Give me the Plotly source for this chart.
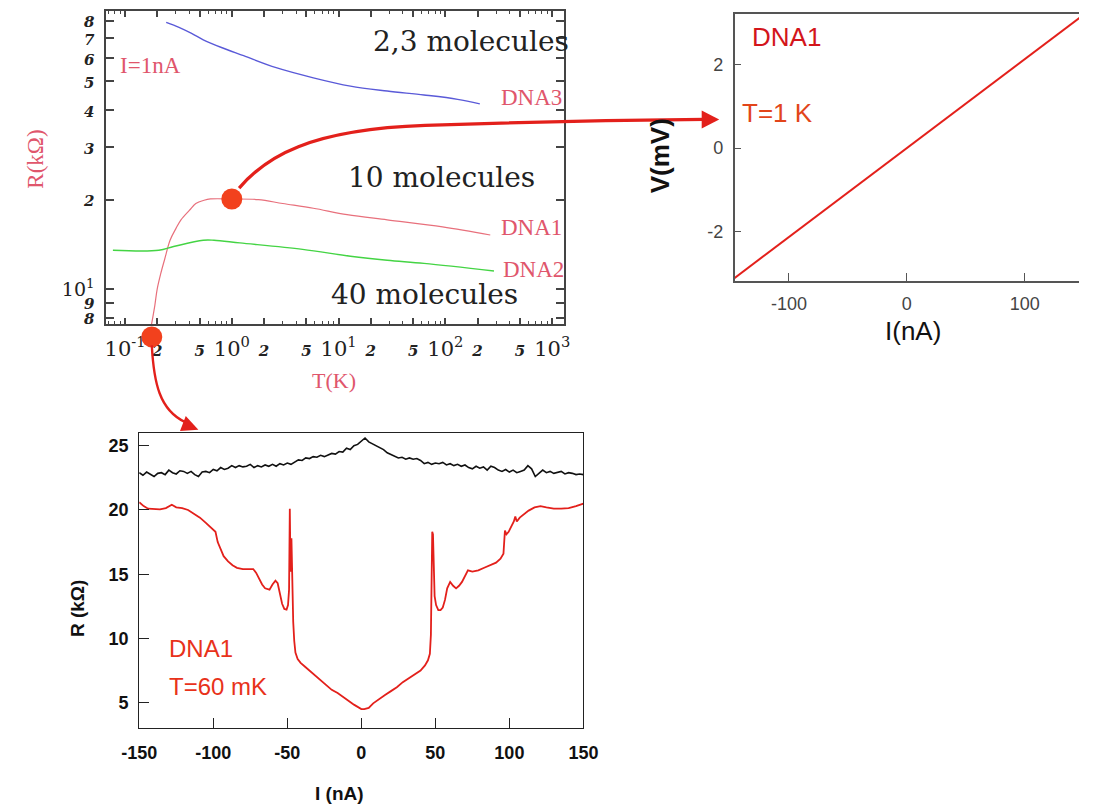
import math
import plotly.graph_objects as go

W, H = 1094, 812

# ---- top-left panel: R(T) at I = 1 nA (T in K, R in kOhm) ----
dna3_T = [0.243, 0.32, 0.42, 0.54, 0.8, 1.29, 2.6, 5.8, 12.9, 28.5, 63, 130, 210]
dna3_R = [79, 76, 72.5, 69, 65, 61, 55.6, 51.4, 48.2, 46.4, 45, 43.5, 42]

dna1_T = [0.177, 0.19, 0.2, 0.215, 0.235, 0.264, 0.3, 0.334, 0.4, 0.46, 0.55, 0.63,
          1.0, 1.77, 3.0, 5.8, 12, 28.5, 94, 263]
dna1_R = [7.6, 8.8, 10.0, 11.2, 12.6, 14.6, 16.0, 17.1, 18.4, 19.4, 19.9, 20.1,
          20.1, 20.0, 19.4, 18.7, 17.8, 17.1, 16.2, 15.2]

dna2_T = [0.077, 0.207, 0.285, 0.54, 0.68, 1.19, 4.6, 12.9, 28.5, 63, 285]
dna2_R = [13.5, 13.5, 13.9, 14.6, 14.6, 14.3, 13.6, 12.9, 12.5, 12.2, 11.5]

# highlighted measurement points (T=1 K and the low-T end)
spot_T = [1.0, 0.178]
spot_R = [20.1, 6.9]

x1_ticks = [0.1, 0.2, 0.5, 1, 2, 5, 10, 20, 50, 100, 200, 500, 1000]
y1_ticks = [8, 9, 10, 20, 30, 40, 50, 60, 70, 80]

# ---- top-right panel: V(I) at T = 1 K ----
iv_I = [-150, -100, -50, 0, 50, 100, 150]
iv_V = [-3.18, -2.12, -1.06, 0.0, 1.06, 2.12, 3.18]

# ---- bottom panel: R(I) at T = 60 mK ----
blk_I = [-150, -147.5, -145, -142.5, -140, -137.5, -135, -132.5, -130, -127.5, -125, -122.5,
         -120, -117.5, -115, -112.5, -110, -107.5, -105, -102.5, -100, -97.5, -95, -92.5,
         -90, -87.5, -85, -82.5, -80, -77.5, -75, -72.5, -70, -67.5, -65, -62.5,
         -60, -57.5, -55, -52.5, -50, -47.5, -45, -42.5, -40, -37.5, -35, -32.5,
         -30, -27.5, -25, -22.5, -20, -17.5, -15, -12.5, -10, -7.5, -5, -2.5,
         0, 2.5, 5, 7.5, 10, 12.5, 15, 17.5, 20, 22.5, 25, 27.5,
         30, 32.5, 35, 37.5, 40, 42.5, 45, 47.5, 50, 52.5, 55, 57.5,
         60, 62.5, 65, 67.5, 70, 72.5, 75, 77.5, 80, 82.5, 85, 87.5,
         90, 92.5, 95, 97.5, 100, 102.5, 105, 107.5, 110, 112.5, 115, 117.5,
         120, 122.5, 125, 127.5, 130, 132.5, 135, 137.5, 140, 142.5, 145, 147.5, 150]
blk_R = [22.9, 22.7, 22.95, 22.8, 22.6, 22.85, 22.9, 22.75, 23.1, 22.9, 22.8, 23.05,
         23.0, 22.85, 23.0, 22.75, 22.6, 22.95, 23.0, 22.9, 23.15, 23.05, 23.3, 23.15,
         23.25, 23.45, 23.3, 23.45, 23.35, 23.4, 23.55, 23.3, 23.45, 23.35, 23.5, 23.4,
         23.55, 23.4, 23.6, 23.5, 23.65, 23.55, 23.75, 23.9, 23.85, 24.05, 24.0, 24.15,
         24.1, 24.25, 24.15, 24.3, 24.4, 24.35, 24.55, 24.5, 24.8, 24.7, 25.0, 25.1,
         25.35, 25.6, 25.3, 25.15, 25.0, 24.8, 24.7, 24.45, 24.3, 24.2, 24.05, 24.1,
         23.95, 24.05, 23.95, 24.0, 23.85, 23.6, 23.7, 23.55, 23.65, 23.6, 23.7, 23.5,
         23.6, 23.45, 23.55, 23.4, 23.5, 23.3, 23.2, 23.4, 23.25, 23.35, 23.1, 23.4,
         23.3, 23.1, 23.0, 23.15, 22.95, 23.1, 22.9, 23.0, 23.1, 23.45, 23.2, 22.6,
         22.85, 23.1, 22.9, 23.0, 22.85, 22.95, 23.0, 22.8, 22.9, 22.85, 22.75, 22.8, 22.75]

red_I = [-150, -147, -144, -140, -136, -132, -128, -125, -121, -117, -113, -109, -105, -101,
         -98.5, -97, -95, -93, -90, -87, -84, -80, -76, -73, -71, -69, -67, -65, -62, -60,
         -58, -56.5, -55, -53.5, -52, -50.5, -49.5, -48.8, -48.3, -47.8, -47.2, -46.6, -46,
         -45.3, -44.5, -43, -41, -38, -35, -32, -28, -24, -20, -16, -12, -8, -5, -2, 0,
         2, 5, 8, 12, 16, 20, 24, 28, 32, 36, 40, 43, 45, 46.3, 47, 47.5, 47.9, 48.4, 48.9,
         49.5, 50.5, 52, 53.5, 55, 56.5, 58, 60, 62, 64, 66, 68, 70, 72, 75, 79, 83, 87, 91,
         94, 96, 97, 98, 99.5, 101, 103, 104, 105, 107, 110, 113, 117, 121, 125, 130, 135,
         140, 145, 150]
red_R = [20.6, 20.3, 20.1, 20.1, 20.05, 20.15, 20.4, 20.2, 20.15, 20.0, 19.7, 19.4, 19.0, 18.6,
         18.3, 17.5, 17.0, 16.4, 16.0, 15.7, 15.5, 15.4, 15.4, 15.4, 15.1, 14.6, 14.2, 13.9, 13.8, 14.2,
         14.5, 14.3, 13.6, 12.7, 12.3, 12.25, 12.6, 13.8, 20.1, 15.2, 17.8, 14.0, 11.3,
         9.8, 8.9, 8.4, 8.1, 7.8, 7.5, 7.2, 6.8, 6.35, 6.0, 5.75, 5.45, 5.1, 4.85, 4.6, 4.5,
         4.5, 4.6, 4.95, 5.3, 5.6, 5.9, 6.2, 6.6, 6.9, 7.15, 7.5, 7.9, 8.3, 8.8, 10.3, 14.8, 18.3, 18.1, 14.6,
         13.3, 12.6, 12.2, 12.2, 12.4, 13.0, 13.9, 14.4, 14.1, 13.9, 14.1, 14.4, 14.9, 15.3, 15.2, 15.3, 15.5, 15.7, 15.9,
         16.2, 16.6, 18.4, 18.1, 18.3, 18.6, 19.1, 19.5, 19.1, 19.4, 19.7, 19.95, 20.2, 20.3, 20.2, 20.1, 20.1,
         20.15, 20.3, 20.5]

assert len(blk_I) == len(blk_R), (len(blk_I), len(blk_R))
assert len(red_I) == len(red_R), (len(red_I), len(red_R))

PINK = "#e0566c"
RED = "#e3201b"
DOT = "#f2411d"
SERIF = "DejaVu Serif"
TIMES = "Liberation Serif"
SANS = "Liberation Sans"


def px(x, y):
    # pixel position -> paper coordinates (margins are zero)
    return f"{x / W:.4f},{1 - y / H:.4f}"


def small(s):
    return f"<span style='font-size:15px'><b><i>{s}</i></b></span>"


def note(text, x, y, size, color, family=SANS, angle=0):
    # free text placed by its centre, in pixels of the page
    return dict(text=text, x=x / W, y=1 - y / H, xref="paper", yref="paper", showarrow=False,
                xanchor="center", yanchor="middle", textangle=angle,
                font=dict(family=family, size=size, color=color))


def label(text, x, y, size, color, family):
    # text placed in data units of the log-log panel
    return dict(text=text, x=math.log10(x), y=math.log10(y), xref="x", yref="y", showarrow=False,
                xanchor="center", yanchor="middle", font=dict(family=family, size=size, color=color))


fig = go.Figure()

# top-left curves
fig.add_trace(go.Scatter(x=dna3_T, y=dna3_R, mode="lines", line=dict(color="#5a5ad8", width=1.4, shape="spline"),
                         xaxis="x", yaxis="y", name="DNA3"))
fig.add_trace(go.Scatter(x=dna1_T, y=dna1_R, mode="lines", line=dict(color="#e8707c", width=1.2, shape="spline"),
                         xaxis="x", yaxis="y", name="DNA1"))
fig.add_trace(go.Scatter(x=dna2_T, y=dna2_R, mode="lines", line=dict(color="#44d444", width=1.4, shape="spline"),
                         xaxis="x", yaxis="y", name="DNA2"))

# top-right IV
fig.add_trace(go.Scatter(x=iv_I, y=iv_V, mode="lines", line=dict(color=RED, width=2),
                         xaxis="x2", yaxis="y2", name="IV"))

# bottom R(I)
fig.add_trace(go.Scatter(x=blk_I, y=blk_R, mode="lines", line=dict(color="#111111", width=1.6),
                         xaxis="x3", yaxis="y3", name="normal"))
fig.add_trace(go.Scatter(x=red_I, y=red_R, mode="lines", line=dict(color=RED, width=1.8),
                         xaxis="x3", yaxis="y3", name="60 mK"))

# arrows connecting the points to the other panels
shapes = [
    dict(type="path", xref="paper", yref="paper", line=dict(color=RED, width=3.2),
         path=f"M {px(228, 189)} C {px(255, 158)} {px(300, 130)} {px(420, 126)} S {px(600, 121)} {px(708, 120)}"),
    dict(type="path", xref="paper", yref="paper", line=dict(color=RED, width=0), fillcolor=RED,
         path=f"M {px(723, 120)} L {px(705, 111)} L {px(705, 129)} Z"),
    dict(type="path", xref="paper", yref="paper", line=dict(color=RED, width=2.4),
         path=f"M {px(138, 347)} C {px(140, 385)} {px(146, 412)} {px(172, 424)}"),
    dict(type="path", xref="paper", yref="paper", line=dict(color=RED, width=0), fillcolor=RED,
         path=f"M {px(186, 432)} L {px(167, 433)} L {px(173, 418)} Z"),
]

# the two highlighted points sit on a hidden axis that extends a little below the panel,
# so the low-temperature dot can hang over the bottom frame as in the original
fig.add_trace(go.Scatter(x=spot_T, y=spot_R, mode="markers", cliponaxis=False,
                         marker=dict(color=DOT, size=21, line=dict(width=0)),
                         xaxis="x", yaxis="y4", name="spots"))

x1_text = ["10<sup>-1</sup>", small("2"), small("5"), "10<sup>0</sup>", small("2"), small("5"),
           "10<sup>1</sup>", small("2"), small("5"), "10<sup>2</sup>", small("2"), small("5"), "10<sup>3</sup>"]
y1_text = [small("8"), small("9"), "10<sup>1</sup>", small("2"), small("3"), small("4"),
           small("5"), small("6"), small("7"), small("8")]
x1_minor = [0.07, 0.08, 0.09, 0.3, 0.4, 0.6, 0.7, 0.8, 0.9, 3, 4, 6, 7, 8, 9,
            30, 40, 60, 70, 80, 90, 300, 400, 600, 700, 800, 900]

frame1 = dict(showline=True, linecolor="#444", linewidth=2, mirror="ticks", showgrid=False,
              zeroline=False, ticks="inside", tickcolor="#444", tickwidth=1.5)

y_lo, y_hi = 0.881, 1.936
per_px = (y_hi - y_lo) / 315.0

annotations = [
    label("2,3 molecules", 175, 68, 28, "#222", SERIF),
    label("10 molecules", 91, 23.8, 28, "#222", SERIF),
    label("40 molecules", 64, 9.56, 28, "#222", SERIF),
    label("DNA3", 640, 44.0, 23, PINK, TIMES),
    label("DNA1", 640, 16.15, 23, PINK, TIMES),
    label("DNA2", 667, 11.67, 23, PINK, TIMES),
    label("I=1nA", 0.175, 56.4, 23, PINK, TIMES),
    note("R(kΩ)", 18, 160, 23, PINK, TIMES, -90),
    note("T(K)", 326, 382, 22, PINK, TIMES),
    # top-right panel
    note("DNA1", 792, 37, 26, "#d3151b"),
    note("T=1 K", 783, 114, 26, "#e2451a"),
    note("<b>V(mV)</b>", 662, 157, 26, "#111", SANS, -90),
    note("I(nA)", 923, 333, 26, "#111"),
    # bottom panel
    dict(text="DNA1", x=-131.5, y=9.2, xref="x3", yref="y3", showarrow=False,
         xanchor="left", yanchor="middle", font=dict(family=SANS, size=24, color="#e8321a")),
    dict(text="T=60 mK", x=-131.5, y=6.25, xref="x3", yref="y3", showarrow=False,
         xanchor="left", yanchor="middle", font=dict(family=SANS, size=24, color="#e8321a")),
    note("<b>R (kΩ)</b>", 62, 612, 19, "#111", SANS, -90),
    note("<b>I (nA)</b>", 331, 797, 19, "#111"),
]

fig.update_layout(
    width=W, height=H, margin=dict(l=0, r=0, t=0, b=0),
    paper_bgcolor="white", plot_bgcolor="rgba(0,0,0,0)", showlegend=False,
    shapes=shapes, annotations=annotations,
    xaxis=dict(frame1, type="log", domain=[91 / W, 563 / W], anchor="y",
               range=[math.log10(0.0667), math.log10(1290)],
               tickmode="array", tickvals=x1_ticks, ticktext=x1_text, ticklen=6,
               tickfont=dict(family=SERIF, size=21, color="#222"), ticklabelstandoff=4,
               minor=dict(ticks="inside", tickmode="array", tickvals=x1_minor, ticklen=3,
                          tickcolor="#444", tickwidth=1.2)),
    yaxis=dict(frame1, type="log", domain=[1 - 326 / H, 1 - 11 / H], anchor="x",
               range=[y_lo, y_hi],
               tickmode="array", tickvals=y1_ticks, ticktext=y1_text, ticklen=8,
               tickfont=dict(family=SERIF, size=19, color="#222"), ticklabelstandoff=6),
    yaxis4=dict(type="log", domain=[1 - 346 / H, 1 - 11 / H], anchor="x",
                range=[y_lo - 20 * per_px, y_hi], visible=False),
    xaxis2=dict(domain=[739 / W, 1.0], anchor="y2", range=[-146, 146],
                showline=True, linecolor="#555", linewidth=1.5, mirror=True,
                showgrid=False, zeroline=False, ticks="inside", ticklen=8, tickcolor="#555",
                tickvals=[-100, 0, 100], ticktext=["-100", "0", "100"],
                tickfont=dict(family=SANS, size=18, color="#444"), ticklabelstandoff=6),
    yaxis2=dict(domain=[1 - 282 / H, 1 - 14 / H], anchor="x2", range=[-3.16, 3.2],
                showline=True, linecolor="#555", linewidth=1.5,
                showgrid=False, zeroline=False, ticks="inside", ticklen=7, tickcolor="#555",
                tickvals=[-2, 0, 2], ticktext=["-2", "0", "2"],
                tickfont=dict(family=SANS, size=18, color="#444"), ticklabelstandoff=6),
    xaxis3=dict(domain=[125 / W, 583 / W], anchor="y3", range=[-150, 150],
                showline=True, linecolor="#222", linewidth=1.2, mirror=True,
                showgrid=False, zeroline=False, ticks="inside", ticklen=10, tickcolor="#222",
                tickvals=[-150, -100, -50, 0, 50, 100, 150],
                ticktext=["-150", "-100", "-50", "0", "50", "100", "150"],
                tickfont=dict(family=SANS, size=18, color="#111", weight="bold"), ticklabelstandoff=8),
    yaxis3=dict(domain=[1 - 732 / H, 1 - 435 / H], anchor="x3", range=[3, 26],
                showline=True, linecolor="#222", linewidth=1.2, mirror=True,
                showgrid=False, zeroline=False, ticks="inside", ticklen=10, tickcolor="#222",
                tickvals=[5, 10, 15, 20, 25],
                tickfont=dict(family=SANS, size=18, color="#111", weight="bold"), ticklabelstandoff=6),
)

# the page body keeps a default 8px margin; drop it so the figure fills the window exactly
fig.write_html("out.html", config={"displayModeBar": False},
               post_script="document.body.style.margin='0px';")
